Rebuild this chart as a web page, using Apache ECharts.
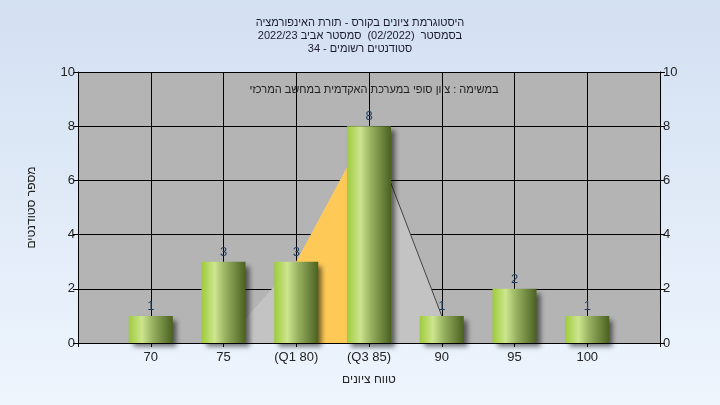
<!DOCTYPE html>
<html>
<head>
<meta charset="utf-8">
<script src="https://cdn.jsdelivr.net/npm/echarts@6/dist/echarts.min.js"></script>
<style>
html,body{margin:0;padding:0;}
#c{width:720px;height:405px;}
</style>
</head>
<body>
<div id="c"></div>
<script>
const titleLines = ['היסטוגרמת ציונים בקורס - תורת האינפורמציה', 'בסמסטר  (02/2022)  סמסטר אביב 2022/23', 'סטודנטים רשומים - 34'];
const subTitle = 'במשימה : ציון סופי במערכת האקדמית במחשב המרכזי';
const xAxisName = 'טווח ציונים';
const yAxisName = 'מספר סטודנטים';
const categories = ['', '70', '75', '(Q1 80)', '(Q3 85)', '90', '95', '100', ''];
const counts = [null, 1, 3, 3, 8, 1, 2, 1, null];
const curve = [null, null, 0, 3, 8, 1, null, null, null];
const iqrCurve = [null, null, null, 3, 8, null, null, null, null];
const declineLine = [null, null, null, null, 8, 1, null, null, null];
const yTicks = {min: 0, max: 10, interval: 2};

const font = "'Liberation Sans', Arial, sans-serif";
const chart = echarts.init(document.getElementById('c'));
const yAxisBase = {
  type: 'value', min: yTicks.min, max: yTicks.max, interval: yTicks.interval,
  axisLine: {show: true, lineStyle: {color: '#000', width: 1}},
  axisTick: {show: true, length: 5, lineStyle: {color: '#000'}},
  axisLabel: {color: '#222', fontSize: 13, fontFamily: font, margin: 3},
  splitLine: {show: false}
};
chart.setOption({
  animation: false,
  backgroundColor: {type: 'linear', x: 0, y: 0, x2: 0, y2: 1, colorStops: [{offset: 0, color: '#d3e0f2'}, {offset: 1, color: '#eef5fd'}]},
  title: [
    {text: titleLines.join('\n'), left: 'center', top: 11, textStyle: {fontSize: 11, fontWeight: 'normal', color: '#1a1a33', fontFamily: font, lineHeight: 13}},
    {text: subTitle, left: 369, top: 79, textAlign: 'center', textStyle: {fontSize: 11, fontWeight: 'normal', color: '#222', fontFamily: font}}
  ],
  grid: {left: 78, right: 60, top: 72, bottom: 62, show: true, backgroundColor: '#b4b4b4', borderWidth: 0},
  xAxis: {
    type: 'category', data: categories, boundaryGap: false,
    name: xAxisName, nameLocation: 'middle', nameGap: 31,
    nameTextStyle: {fontSize: 12, color: '#222', fontFamily: font},
    axisLine: {show: true, lineStyle: {color: '#000'}},
    axisTick: {show: true, length: 4, lineStyle: {color: '#000'}},
    axisLabel: {color: '#222', fontSize: 13, fontFamily: font, margin: 8, interval: 0},
    splitLine: {show: true, lineStyle: {color: '#000', width: 1}}
  },
  yAxis: [
    Object.assign({}, yAxisBase, {position: 'left', name: yAxisName, nameLocation: 'middle', nameGap: 40,
      nameTextStyle: {fontSize: 12, color: '#222', fontFamily: font},
      splitLine: {show: true, lineStyle: {color: '#000', width: 1}}}),
    Object.assign({}, yAxisBase, {position: 'right'})
  ],
  series: [
    {type: 'line', z: 1, data: curve, showSymbol: false, lineStyle: {width: 0}, areaStyle: {color: '#c3c3c3', opacity: 1}, silent: true},
    {type: 'line', z: 1, data: iqrCurve, showSymbol: false, lineStyle: {width: 0}, areaStyle: {color: '#fec957', opacity: 1}, silent: true},
    {type: 'line', z: 1, data: declineLine, showSymbol: false, lineStyle: {width: 1, color: '#444'}, silent: true},
    {type: 'bar', z: 5, data: counts, barWidth: 44,
      itemStyle: {
        color: {type: 'linear', x: 0, y: 0, x2: 1, y2: 0, colorStops: [
          {offset: 0, color: '#9ecb3c'}, {offset: 0.3, color: '#cde58e'}, {offset: 0.55, color: '#96b060'}, {offset: 1, color: '#4a6120'}]},
        shadowColor: 'rgba(0,0,0,0.55)', shadowBlur: 5, shadowOffsetX: 4, shadowOffsetY: 4
      },
      label: {show: true, position: 'top', distance: 3, color: '#1d3d5e', fontSize: 13, fontFamily: font}
    }
  ]
});
</script>
</body>
</html>
